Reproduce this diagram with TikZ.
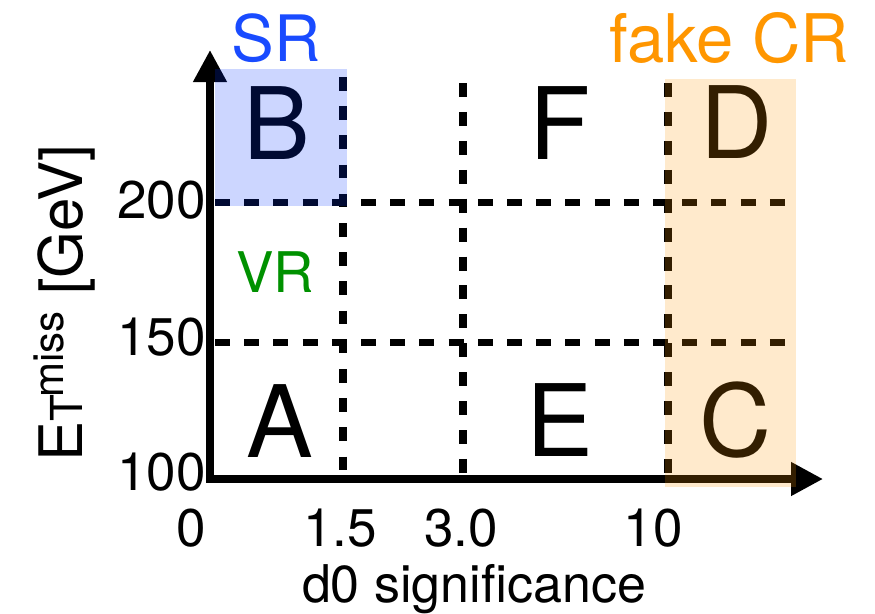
\documentclass[tikz,border=0pt]{standalone}
\usepackage{fontspec}
\setmainfont{TeX Gyre Heros}
\usetikzlibrary{arrows.meta}
\definecolor{srblue}{RGB}{25,75,255}
\definecolor{crorange}{RGB}{255,150,0}
\definecolor{vrgreen}{RGB}{0,145,0}
\definecolor{ovblue}{RGB}{0,50,255}
\newcommand\fsz[1]{\fontsize{#1}{#1}\selectfont}
\begin{document}
\begin{tikzpicture}[x=1pt,y=-1pt,
  axisline/.style={line width=7.5pt,-{Triangle[length=32pt,width=32pt]}},
  hgrid/.style={line width=7pt,dash pattern=on 15pt off 14.2pt},
  vgrid/.style={line width=7.5pt,dash pattern=on 14pt off 14.92pt},
  lbl/.style={inner sep=0pt,anchor=center},
  region/.style={lbl,font=\fsz{100}},
  tick/.style={lbl,font=\fsz{53}}]
\useasboundingbox (0,0) rectangle (875,613);
% grid
\draw[vgrid,dash pattern=on 13.5pt off 15.7pt] (343,77) -- (343,470);
\draw[vgrid] (463,83) -- (463,473);
\draw[vgrid] (668,83) -- (668,473);
\draw[hgrid] (215,202) -- (785,202);
\draw[hgrid] (215,342) -- (785,342);
% axes
\coordinate (o) at (210,479);
\coordinate (ytip) at (210,50);
\coordinate (xtip) at (823,479);
\draw[axisline] (210,482.75) -- (ytip);
\draw[axisline] (206.25,479) -- (xtip);
% region letters
\node[region] (B) at (277,123) {B};
\node[region] (F) at (560,123) {F};
\node[region] (D) at (737,122) {D};
\node[region] (A) at (280,421) {A};
\node[region] (E) at (560,420) {E};
\node[region] (C) at (736,420) {C};
\node[lbl,font=\fsz{56},text=vrgreen] (VR) at (275,272) {VR};
\node[lbl,font=\fsz{64},text=srblue] (SR) at (276,38) {SR};
\node[lbl,font=\fsz{67},text=crorange] (CR) at (729,38) {fake CR};
% tick labels
\node[tick,anchor=east] (t200) at (206,200) {200};
\node[tick,anchor=east] (t150) at (206,337) {150};
\node[tick,anchor=east] (t100) at (206,472) {100};
\node[tick] (t0) at (191,528) {0};
\node[tick] (t15) at (340,528) {1.5};
\node[tick] (t30) at (461,528) {3.0};
\node[tick] (t10) at (653,528) {10};
\node[inner sep=0pt,anchor=base,font=\fsz{52}] (xlab) at (474,602) {d0 significance};
\node[rotate=90,anchor=base west,inner sep=0pt,font=\fsz{60}] (ylab) at (82,462)
  {E{\fsz{44}T}\kern-3pt\raisebox{19pt}{\fsz{42}miss} [GeV]};
% overlays
\fill[ovblue,opacity=0.2] (215,69) rectangle (347,206);
\fill[crorange,opacity=0.2] (665,79) rectangle (796,487);
\end{tikzpicture}
\end{document}
